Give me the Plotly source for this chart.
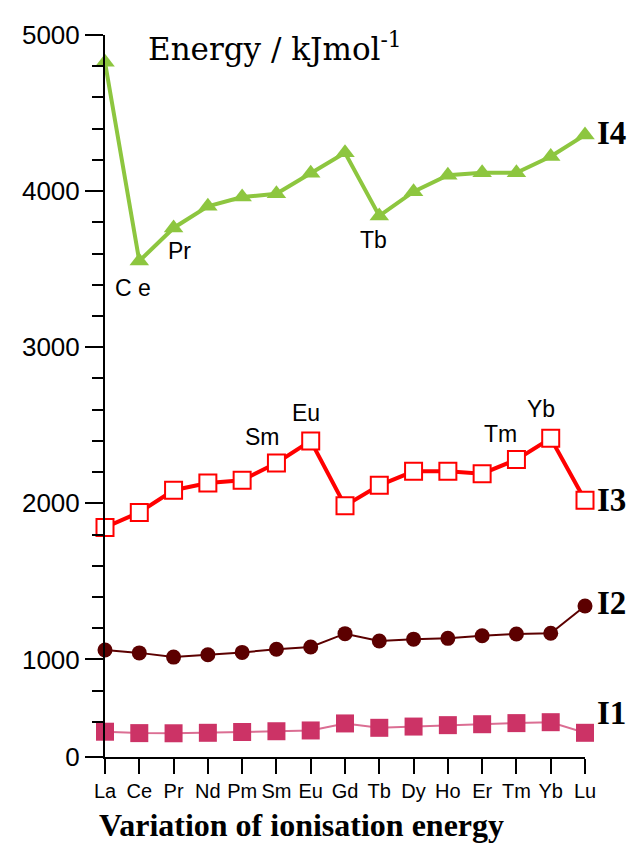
import plotly.graph_objects as go

elements = ["La", "Ce", "Pr", "Nd", "Pm", "Sm", "Eu", "Gd", "Tb", "Dy", "Ho", "Er", "Tm", "Yb", "Lu"]
I1 = [537, 528, 527, 530, 535, 540, 545, 590, 562, 570, 579, 585, 592, 598, 530]
I2 = [1060, 1042, 1015, 1030, 1045, 1065, 1080, 1165, 1118, 1130, 1135, 1152, 1163, 1168, 1342]
I3 = [1845, 1942, 2084, 2130, 2148, 2258, 2400, 1985, 2115, 2205, 2205, 2190, 2280, 2417, 2020]
I4 = [4825, 3552, 3764, 3903, 3962, 3983, 4114, 4246, 3841, 3996, 4102, 4118, 4118, 4222, 4360]

ytick_vals = [375, 1000, 2000, 3000, 4000, 5000]
ytick_text = ["0", "1000", "2000", "3000", "4000", "5000"]
yminor_vals = [600, 800, 1200, 1400, 1600, 1800, 2200, 2400, 2600, 2800,
               3200, 3400, 3600, 3800, 4200, 4400, 4600, 4800]

fig = go.Figure()

fig.add_trace(go.Scatter(
    x=elements, y=I1, mode="lines+markers", cliponaxis=False,
    line=dict(color="#DB6E93", width=2),
    marker=dict(symbol="square", size=18, color="#CC3366"),
))
fig.add_trace(go.Scatter(
    x=elements, y=I2, mode="lines+markers", cliponaxis=False,
    line=dict(color="#5C0000", width=2),
    marker=dict(symbol="circle", size=15, color="#5C0000"),
))
fig.add_trace(go.Scatter(
    x=elements, y=I3, mode="lines+markers", cliponaxis=False,
    line=dict(color="#FF0000", width=4),
    marker=dict(symbol="square", size=17, color="white",
                line=dict(color="#FF0000", width=2)),
))
fig.add_trace(go.Scatter(
    x=elements, y=I4, mode="lines+markers", cliponaxis=False,
    line=dict(color="#8DC63F", width=4),
    marker=dict(symbol="triangle-up", size=17, color="#8DC63F"),
))

ann_font = dict(family="Liberation Sans, Arial, sans-serif", size=23, color="black")
point_labels = [
    ("Ce", I4, "C e", -6, -27),
    ("Pr", I4, "Pr", 6, -23),
    ("Tb", I4, "Tb", -6, -24),
    ("Sm", I3, "Sm", -14, 26),
    ("Eu", I3, "Eu", -5, 28),
    ("Tm", I3, "Tm", -16, 26),
    ("Yb", I3, "Yb", -10, 29),
]
annotations = []
for el, series, txt, dx, dy in point_labels:
    i = elements.index(el)
    annotations.append(dict(x=el, y=series[i], text=txt, showarrow=False,
                            xanchor="center", yanchor="middle",
                            xshift=dx, yshift=dy, font=ann_font))

series_font = dict(family="Liberation Serif, Times New Roman, serif", size=33, color="black")
for name, series, dy in [("I4", I4, 2), ("I3", I3, 0), ("I2", I2, 3), ("I1", I1, 20)]:
    annotations.append(dict(x="Lu", y=series[-1], text="<b>" + name + "</b>", showarrow=False,
                            xanchor="left", yanchor="middle", xshift=10, yshift=dy,
                            font=series_font))

annotations.append(dict(xref="paper", yref="paper", x=0.085, y=1.014,
                        text="Energy / kJmol<sup>-1</sup>", showarrow=False,
                        xanchor="left", yanchor="top",
                        font=dict(family="DejaVu Serif, serif", size=31, color="black")))
annotations.append(dict(xref="paper", yref="paper", x=0.41, y=-0.094,
                        text="<b>Variation of ionisation energy</b>", showarrow=False,
                        xanchor="center", yanchor="middle",
                        font=dict(family="Liberation Serif, Times New Roman, serif", size=32, color="black")))

fig.update_layout(
    width=630, height=838,
    margin=dict(l=97, r=53, t=23, b=89),
    paper_bgcolor="white", plot_bgcolor="white",
    showlegend=False,
    annotations=annotations,
    xaxis=dict(type="category", range=[0, 14], tickmode="array",
               tickvals=elements, ticktext=elements, tickangle=0,
               showline=True, linecolor="black", linewidth=2,
               ticks="outside", ticklen=15, tickwidth=2, tickcolor="black",
               showgrid=False, zeroline=False,
               tickfont=dict(family="Liberation Sans, Arial, sans-serif", size=20, color="black")),
    yaxis=dict(range=[375, 5000], tickmode="array",
               tickvals=ytick_vals, ticktext=ytick_text,
               showline=True, linecolor="black", linewidth=2,
               ticks="outside", ticklen=18, tickwidth=2, tickcolor="black",
               minor=dict(tickmode="array", tickvals=yminor_vals, ticks="outside",
                          ticklen=11, tickwidth=2, tickcolor="black", showgrid=False),
               showgrid=False, zeroline=False,
               tickfont=dict(family="Liberation Sans, Arial, sans-serif", size=26, color="black")),
)

fig.write_html("out.html")
